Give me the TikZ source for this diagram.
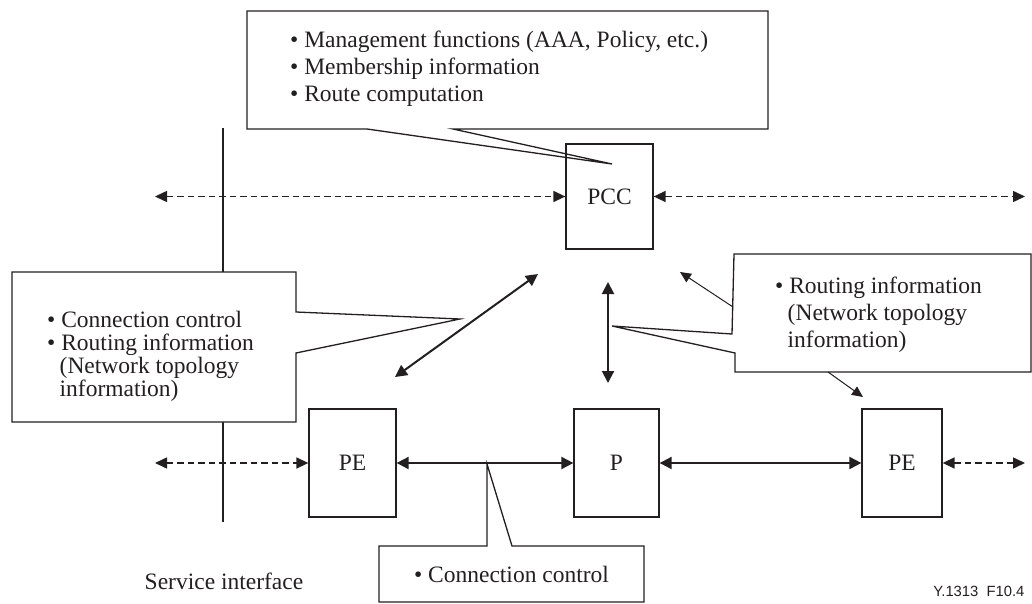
\documentclass[tikz,border=0pt]{standalone}
\usepackage{fontspec}
\setmainfont{Liberation Serif}
\newfontfamily\labelsans{Liberation Sans}
\usetikzlibrary{arrows.meta}
\definecolor{ink}{HTML}{231F20}

\begin{document}
\begin{tikzpicture}[x=1pt,y=-1pt,
  every node/.style={text=ink, font=\fontsize{23.5}{27}\selectfont},
  box/.style={draw=ink, line width=1.3pt, inner sep=0pt},
  callout/.style={draw=ink, line width=1.3pt, fill=white},
  txt/.style={anchor=north west, align=left, inner sep=0pt},
  head/.style={Triangle[length=12pt,width=11pt]},
  dasharrow/.style={draw=ink, line width=1.5pt, dash pattern=on 6.5pt off 4pt, {Triangle[length=12pt,width=11pt]}-{Triangle[length=12pt,width=11pt]}},
  solidarrow/.style={draw=ink, line width=2pt, {Triangle[length=12pt,width=12pt]}-{Triangle[length=12pt,width=12pt]}},
  thinarrow/.style={draw=ink, line width=1pt, -{Triangle[length=11pt,width=10pt]}},
]
\useasboundingbox (0,0) rectangle (1032,604);

% service interface line
\coordinate (siTop) at (223,128);
\coordinate (siBot) at (223,522);
\draw[ink, line width=2pt] (siTop) -- (siBot);

% callout shapes
\draw[callout] (247,11) -- (768,11) -- (768,129) -- (453,129) -- (612,164) -- (367,129) -- (247,129) -- cycle;
\draw[callout] (12,272) -- (296,272) -- (296,312) -- (460,319) -- (296,353) -- (296,422) -- (12,422) -- cycle;
\draw[callout] (734,254) -- (1031,254) -- (1031,372) -- (735,372) -- (735,353) -- (612,326) -- (732,334) -- cycle;
\draw[callout] (379,546) -- (487,546) -- (487,464) -- (512,546) -- (644,546) -- (644,602) -- (379,602) -- cycle;

% network elements
\node[box, minimum width=87pt, minimum height=105pt] (pcc) at (609.5,196.5) {PCC};
\node[box, minimum width=87pt, minimum height=108pt] (pe1) at (352.5,463) {PE};
\node[box, minimum width=85pt, minimum height=108pt] (p) at (616.5,463) {P};
\node[box, minimum width=80pt, minimum height=108pt] (pe2) at (902,463) {PE};

% open ends of the external links
\coordinate (pccL) at (155,196.5);
\coordinate (pccR) at (1025,196.5);
\coordinate (peL) at (155,463);
\coordinate (peR) at (1025,463);

\draw[dasharrow] (pccL) -- (pcc.west);
\draw[dasharrow] (pcc.east) -- (pccR);
\draw[dasharrow] (peL) -- (pe1.west);
\draw[dasharrow] (pe2.east) -- (peR);

\draw[solidarrow] (pe1.east) -- (p.west);
\draw[solidarrow] (p.east) -- (pe2.west);

% control links towards the PCC
\coordinate (dA) at (395,377);
\coordinate (dB) at (538,274);
\coordinate (vA) at (608,282);
\coordinate (vB) at (608,383);
\draw[solidarrow] (dA) -- (dB);
\draw[solidarrow] (vA) -- (vB);

\coordinate (rc1) at (733,307);
\coordinate (ru) at (680,272);
\coordinate (rc2) at (828,372);
\coordinate (rd) at (863,397);
\draw[thinarrow] (rc1) -- (ru);
\draw[thinarrow] (rc2) -- (rd);

% callout texts
\node[txt] (toptext) at (290,30.5) {\textbullet\ Management functions (AAA, Policy, etc.)\\
  \textbullet\ Membership information\\
  \textbullet\ Route computation};
\node[txt, font=\fontsize{23.5}{23}\selectfont] (lefttext) at (47,311) {\textbullet\ Connection control\\
  \textbullet\ Routing information\\
  \hspace*{12.5pt}(Network topology\\
  \hspace*{12.5pt}information)};
\node[txt] (righttext) at (775,277) {\textbullet\ Routing information\\
  \hspace*{12.5pt}(Network topology\\
  \hspace*{12.5pt}information)};
\node[anchor=base] (cctext) at (511.5,582) {\textbullet\ Connection control};

\node[anchor=base] (si) at (224,589) {Service interface};
\node[anchor=base east, font=\labelsans\fontsize{14.8}{16}\selectfont] (fig) at (1028,596) {Y.1313\ \ F10.4};
\end{tikzpicture}
\end{document}
